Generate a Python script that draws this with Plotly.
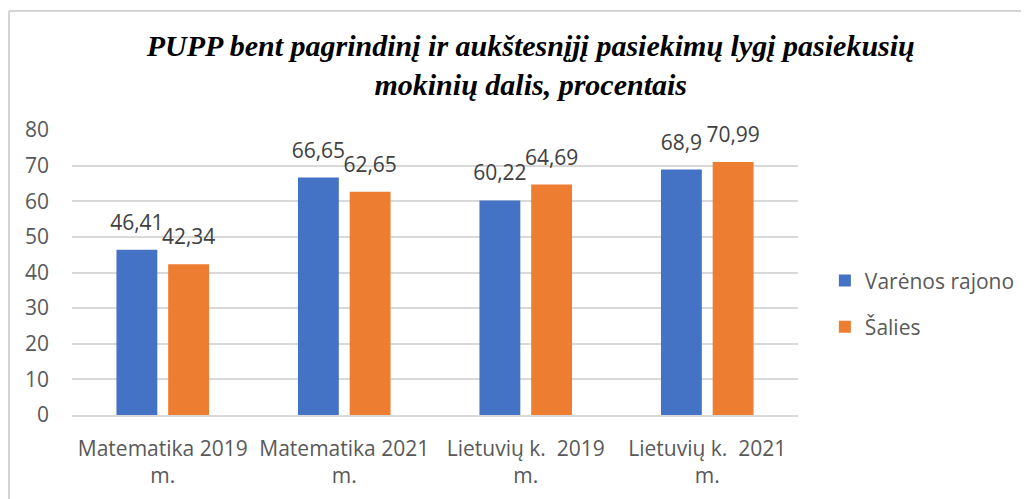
import plotly.graph_objects as go

categories = ["Matematika 2019<br>m.", "Matematika 2021<br>m.",
              "Lietuvių k.\u00a0 2019<br>m.", "Lietuvių k.\u00a0 2021<br>m."]
series_names = ["Varėnos rajono", "Šalies"]
varena = [46.41, 66.65, 60.22, 68.9]
salies = [42.34, 62.65, 64.69, 70.99]
y_ticks = [0, 10, 20, 30, 40, 50, 60, 70, 80]

colors = ["#4472C4", "#ED7D31"]
FONT = "Open Sans"
FS = 21

# the page body adds an 8px offset, so the margins are set 8px short
L, T = 64, 122
PW, PH = 726, 285


def fmt(v):
    return f"{v:g}".replace(".", ",")


fig = go.Figure()
for name, vals, color in zip(series_names, [varena, salies], colors):
    fig.add_trace(
        go.Bar(
            x=categories,
            y=vals,
            name=name,
            marker=dict(color=color, line=dict(width=0)),
            offsetgroup=name,
            legendgroup=name,
        )
    )
for name, vals in zip(series_names, [varena, salies]):
    fig.add_trace(
        go.Scatter(
            x=categories,
            y=vals,
            mode="markers+text",
            text=[fmt(v) for v in vals],
            textposition="top center",
            textfont=dict(family=FONT, size=FS, color="#404040"),
            marker=dict(size=22, opacity=0),
            offsetgroup=name,
            showlegend=False,
            hoverinfo="skip",
            cliponaxis=False,
        )
    )

# chart frame (left and top edges; the rest lies outside the window)
fig.add_shape(
    type="line", xref="paper", yref="paper",
    x0=(1 - L) / PW, x1=(1 - L) / PW,
    y0=-(560 - T - PH) / PH, y1=(T + PH - 3) / PH,
    line=dict(color="#d4d4d4", width=2),
)
fig.add_shape(
    type="line", xref="paper", yref="paper",
    x0=(1 - L) / PW, x1=(1040 - L) / PW,
    y0=(T + PH - 3) / PH, y1=(T + PH - 3) / PH,
    line=dict(color="#d4d4d4", width=2),
)

fig.update_layout(
    width=1029,
    height=499,
    barmode="group",
    scattermode="group",
    bargap=0.43,
    bargroupgap=0.21,
    paper_bgcolor="white",
    plot_bgcolor="white",
    margin=dict(l=L, r=1029 - L - PW, t=T, b=499 - T - PH, autoexpand=False),
    font=dict(family=FONT, size=FS, color="#595959"),
    title=dict(
        text="<b><i>PUPP bent pagrindinį ir aukštesnįjį pasiekimų lygį pasiekusių<br>mokinių dalis, procentais</i></b>",
        font=dict(family="Liberation Serif", size=30, color="black"),
        x=0.508, xanchor="center", xref="container",
        y=0.904, yanchor="middle", yref="container",
    ),
    xaxis=dict(
        showline=True, linecolor="#d9d9d9", linewidth=1.5,
        ticks="", ticklabelstandoff=14, automargin=False,
        tickfont=dict(family=FONT, size=FS, color="#595959"),
    ),
    yaxis=dict(
        range=[0, 80], tickvals=y_ticks, automargin=False,
        showgrid=True, gridcolor="#d9d9d9", gridwidth=1.5,
        zeroline=False, ticks="", ticklabelstandoff=22,
        tickfont=dict(family=FONT, size=FS, color="#595959"),
    ),
    legend=dict(
        x=1.037, xanchor="left", y=0.39, yanchor="middle",
        font=dict(family=FONT, size=FS, color="#595959"),
        traceorder="grouped", tracegroupgap=16,
        itemwidth=30,
    ),
    showlegend=True,
)

fig.write_html("out.html")
